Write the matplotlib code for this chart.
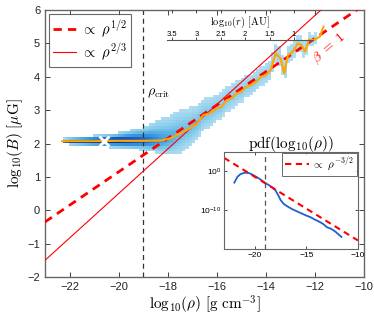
import numpy as np
import matplotlib
matplotlib.use("Agg")
import matplotlib.pyplot as plt
from matplotlib.colors import LinearSegmentedColormap

plt.rcParams["font.family"] = ["Liberation Sans", "DejaVu Sans"]
plt.rcParams["mathtext.fontset"] = "cm"

# median of log B in bins of log rho (orange curve)
med_x = [-22.3, -21.0, -20.0, -19.0, -18.3, -17.9, -17.5, -17.1, -16.8, -16.55,
         -16.3, -16.0, -15.8, -15.6, -15.4, -15.2, -15.0, -14.8, -14.6, -14.4,
         -14.2, -14.0, -13.8, -13.6, -13.4, -13.25, -13.1, -12.9, -12.7, -12.55,
         -12.4, -12.25, -12.05, -11.8, -11.65]
med_y = [2.07, 2.07, 2.08, 2.08, 2.09, 2.15, 2.30, 2.45, 2.60, 2.85,
         2.90, 3.05, 3.10, 3.30, 3.35, 3.50, 3.55, 3.70, 3.75, 3.85,
         4.00, 4.05, 4.20, 4.70, 4.55, 4.10, 4.65, 4.75, 5.00, 4.95,
         4.75, 5.10, 5.10, 5.20, 5.50]

# 2d histogram envelope, read per column
hist_x = [-22.3, -22.0, -21.0, -20.0, -19.0, -18.3, -17.5, -16.5, -15.5, -14.5, -13.5, -12.5, -11.9]
hist_below = [0.07, 0.10, 0.15, 0.21, 0.28, 0.40, 0.62, 0.45, 0.36, 0.30, 0.28, 0.24, 0.15]
hist_above = [0.07, 0.10, 0.16, 0.24, 0.42, 0.66, 0.72, 0.50, 0.40, 0.34, 0.30, 0.25, 0.15]
hist_peak = [0.70, 0.95, 1.00, 0.95, 0.75, 0.50, 0.32, 0.24, 0.18, 0.14, 0.09, 0.06, 0.04]

# reference power laws
line_x = [-23.0, -10.0]
half_y = [-0.35, 6.15]
twothird_y = [-1.50, 7.17]

rho_crit = -19.0
mean_pt = (-20.6, 2.08)

# log10(r) [AU] axis
r_ticks = [3.5, 3, 2.5, 2, 1.5, 1]
r_labels = ["3.5", "3", "2.5", "2", "1.5", "1"]

# inset pdf
pdf_x = [-22.0, -21.7, -21.4, -21.0, -20.6, -20.2, -19.8, -19.4, -19.0, -18.6,
         -18.3, -18.0, -17.75, -17.5, -17.2, -16.8, -16.4, -16.0, -15.5, -15.0,
         -14.6, -14.2, -13.8, -13.4, -13.0, -12.6, -12.2, -11.9, -11.6]
pdf_logy = [-2.9, -1.4, -0.7, -0.35, -0.4, -0.9, -1.5, -2.2, -3.0, -3.6,
            -4.2, -4.9, -6.1, -7.4, -8.4, -9.1, -9.7, -10.2, -10.8, -11.4,
            -11.8, -12.4, -12.9, -13.5, -14.4, -14.8, -15.5, -16.2, -16.9]
slope_x = [-23.0, -10.0]
slope_logy = [3.5, -17.8]

fig = plt.figure(figsize=(3.74, 3.18), dpi=100)
ax = fig.add_axes([0.1203, 0.1289, 0.8529, 0.8396])

# build histogram image from the envelope
xe = np.arange(-22.4, -11.8, 0.125)
ye = np.arange(1.0, 6.0, 0.085)
xc = 0.5 * (xe[:-1] + xe[1:])
yc = 0.5 * (ye[:-1] + ye[1:])
mid = np.interp(xc, med_x, med_y)
lo = np.interp(xc, hist_x, hist_below)
hi = np.interp(xc, hist_x, hist_above)
pk = np.interp(xc, hist_x, hist_peak)
d = yc[:, None] - mid[None, :]
u = d / np.where(d > 0, hi[None, :], lo[None, :])
val = pk[None, :] * np.exp(-2.5 * u ** 2)
inside = (np.abs(u) <= 1) & (xc[None, :] >= hist_x[0]) & (xc[None, :] <= hist_x[-1])
val = np.ma.masked_where(~inside, val)

cmap = LinearSegmentedColormap.from_list(
    "b", ["#b4def2", "#78c4e8", "#3a9ade", "#1a5cc0", "#0a1f86"])
ax.pcolormesh(xe, ye, val, cmap=cmap, vmin=0, vmax=1, zorder=1)

ax.plot(line_x, half_y, "--", color="red", lw=2, dashes=(3, 2.2), zorder=3,
        label=r"$\propto\ \rho^{1/2}$")
ax.plot(line_x, twothird_y, "-", color="red", lw=0.8, zorder=3,
        label=r"$\propto\ \rho^{2/3}$")
ax.axvline(rho_crit, color="#333333", lw=0.9, ls=(0, (4, 3)), zorder=2)
ax.plot(med_x, med_y, color="#ffa500", lw=1.5, zorder=4)
ax.plot(*mean_pt, "x", color="white", ms=7, mew=2, zorder=5)

ax.text(-18.85, 3.5, r"$\rho_{\rm crit}$", fontsize=10, va="center")
ax.text(-11.4, 4.85, r"$\beta\ =\ 1$", color="red", fontsize=10,
        rotation=40, ha="center", va="center")

ax.set_xlim(-23, -10)
ax.set_ylim(-2, 6)
ax.set_xticks(np.arange(-22, -9, 2))
ax.set_yticks(np.arange(-2, 7, 1))
ax.tick_params(direction="in", length=3.5, width=0.6, top=True, right=True,
               labelsize=8, colors="#222222")
for s in ax.spines.values():
    s.set_color("#666666")
    s.set_linewidth(1.0)
ax.set_xlabel(r"$\mathrm{log}_{10}(\rho)\ [\mathrm{g\ cm^{-3}}]$", fontsize=11, labelpad=1)
ax.set_ylabel(r"$\mathrm{log}_{10}(B)\ [\mu\mathrm{G}]$", fontsize=11, labelpad=2)

leg = ax.legend(loc="upper left", fontsize=10.5, handlelength=1.6, handletextpad=0.3,
                borderpad=0.3, labelspacing=0.2, borderaxespad=0.25, fancybox=False)
leg.get_frame().set_edgecolor("#444444")
leg.get_frame().set_linewidth(0.8)

# radius axis
ax2 = fig.add_axes([0.4465, 0.8742, 0.3904, 0.0943], facecolor="none")
ax2.set_xlim(3.6, 0.61)
ax2.set_yticks([])
for k in ["left", "right", "top"]:
    ax2.spines[k].set_visible(False)
ax2.spines["bottom"].set_color("#555555")
ax2.spines["bottom"].set_linewidth(0.8)
ax2.set_xticks(r_ticks)
ax2.set_xticklabels(r_labels)
ax2.tick_params(axis="x", bottom=True, top=True, direction="in", length=2,
                width=0.5, pad=-6.5, labelsize=5.5)
ax2.text(0.5, 0.6, r"$\mathrm{log}_{10}(r)\ [\mathrm{AU}]$", transform=ax2.transAxes,
         ha="center", va="center", fontsize=7.5)

# inset pdf
ins = fig.add_axes([0.599, 0.217, 0.358, 0.305])
ins.plot(pdf_x, 10.0 ** np.array(pdf_logy), color="#1f5fd0", lw=1.3)
ins.plot(slope_x, 10.0 ** np.array(slope_logy), "--", color="red", lw=1.5,
         dashes=(3, 2.2), label=r"$\propto\ \rho^{-3/2}$")
ins.axvline(rho_crit, color="#555555", lw=0.9, ls=(0, (4, 3)))
ins.set_yscale("log")
ins.set_xlim(-23, -10)
ins.set_ylim(1e-20, 1e5)
ins.set_xticks([-20, -15, -10])
ins.set_yticks([1e-10, 1e0])
ins.minorticks_off()
ins.tick_params(direction="in", length=2.5, width=0.5, top=True, right=True,
                labelsize=6, pad=2)
for s in ins.spines.values():
    s.set_color("#666666")
    s.set_linewidth(0.8)
ins.set_title(r"$\mathrm{pdf}(\mathrm{log}_{10}(\rho))$", fontsize=11, pad=3)
il = ins.legend(loc="upper right", fontsize=8, handlelength=2.2, handletextpad=0.3,
                borderpad=0.25, borderaxespad=0.1, fancybox=False)
il.get_frame().set_edgecolor("#444444")
il.get_frame().set_linewidth(0.7)

fig.savefig("out.png", dpi=100)
